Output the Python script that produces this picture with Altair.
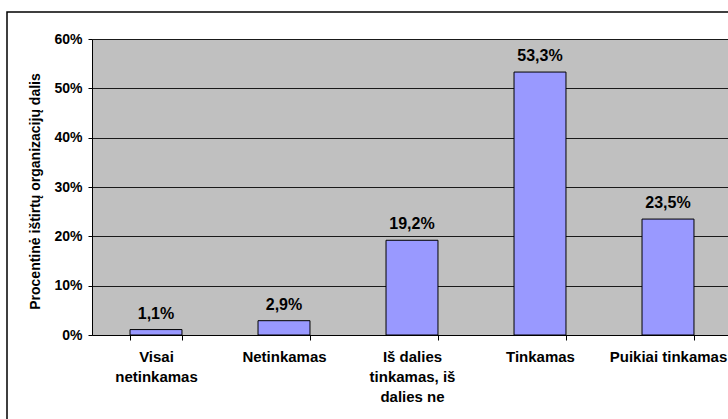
import altair as alt
import pandas as pd

# Survey answers: share of organisations per rating category (percent)
categories = [
    "Visai\nnetinkamas",
    "Netinkamas",
    "Iš dalies\ntinkamas, iš\ndalies ne",
    "Tinkamas",
    "Puikiai tinkamas",
]
shares = [1.1, 2.9, 19.2, 53.3, 23.5]
y_ticks = [0, 10, 20, 30, 40, 50, 60]

value_labels = [f"{v:.1f}".replace(".", ",") + "%" for v in shares]

df = pd.DataFrame({"kategorija": categories, "dalis": shares, "etikete": value_labels})

FONT = "Liberation Sans"

x_enc = alt.X(
    "kategorija:N",
    sort=None,
    title=None,
    scale=alt.Scale(range=[0, 640], paddingInner=0.594, paddingOuter=0.297),
    axis=alt.Axis(
        labelAngle=0,
        labelExpr="split(datum.label, '\\n')",
        labelLineHeight=20,
        labelPadding=9,
        labelFontSize=15,
        labelFontWeight="bold",
        labelFont=FONT,
        labelColor="black",
        tickBand="extent",
        tickSize=5,
        tickColor="black",
        domainColor="black",
        grid=False,
    ),
)

y_enc = alt.Y(
    "dalis:Q",
    scale=alt.Scale(domain=[0, 60], nice=False),
    axis=alt.Axis(
        values=y_ticks,
        labelExpr="datum.value + '%'",
        labelFontSize=14,
        labelFontWeight="bold",
        labelFont=FONT,
        labelColor="black",
        labelPadding=6,
        tickSize=4,
        tickColor="black",
        domainColor="black",
        gridColor="#1a1a1a",
        gridWidth=1,
        title="Procentinė ištirtų organizacijų dalis",
        titleFont=FONT,
        titleFontSize=14,
        titleFontWeight="bold",
        titleColor="black",
        titleX=-50,
        titleY=152,
        titleAngle=270,
        titleBaseline="bottom",
    ),
)

bars = alt.Chart(df).mark_bar(
    fill="#9999FF", stroke="black", strokeWidth=1
).encode(x=x_enc, y=y_enc)

texts = alt.Chart(df).mark_text(
    dy=-11, baseline="alphabetic", fontSize=16, fontWeight="bold", font=FONT, color="black"
).encode(x=x_enc, y=y_enc, text="etikete:N")

# outer chart frame
frame = alt.Chart(pd.DataFrame({"k": [0]})).mark_rect(
    fillOpacity=0, stroke="black", strokeWidth=1.5, clip=False
).encode(
    x=alt.value(-85), x2=alt.value(760), y=alt.value(-27), y2=alt.value(460)
)

chart = (
    alt.layer(frame, bars, texts)
    .properties(
        width=636,
        height=296,
        padding={"left": 92, "top": 39, "right": 0, "bottom": 84},
        autosize=alt.AutoSizeParams(type="none"),
        background="white",
    )
    .configure_view(fill="#C0C0C0", stroke="transparent", strokeWidth=0)
)

chart.save("out.html", embed_options={"renderer": "svg", "actions": False})
